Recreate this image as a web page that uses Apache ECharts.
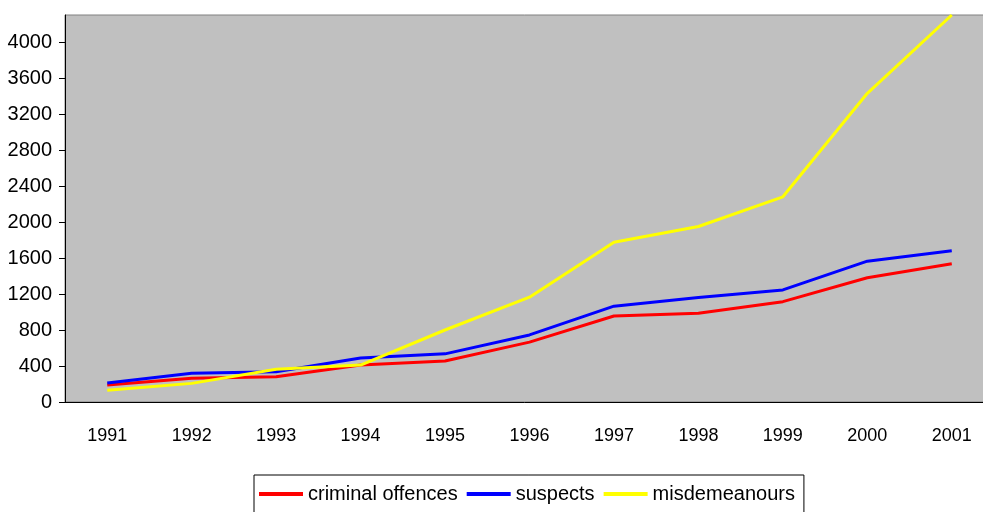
<!DOCTYPE html>
<html>
<head>
<meta charset="utf-8">
<script src="https://cdn.jsdelivr.net/npm/echarts@6/dist/echarts.min.js"></script>
<style>
  html, body { margin: 0; padding: 0; background: #fff; }
  #chart { width: 983px; height: 512px; }
</style>
</head>
<body>
<div id="chart"></div>
<script>
// values
var years = ["1991", "1992", "1993", "1994", "1995", "1996", "1997", "1998", "1999", "2000", "2001"];
var criminalOffences = [190, 265, 280, 410, 455, 665, 955, 985, 1115, 1380, 1535];
var suspects = [210, 320, 335, 490, 535, 745, 1065, 1160, 1245, 1565, 1680];
var misdemeanours = [130, 207, 365, 410, 800, 1165, 1775, 1950, 2280, 3430, 4300];
var yTicks = [0, 400, 800, 1200, 1600, 2000, 2400, 2800, 3200, 3600, 4000];

var font = '"Liberation Sans", Arial, sans-serif';

var chart = echarts.init(document.getElementById("chart"));

function line(name, color, data) {
  return {
    name: name,
    type: "line",
    data: data,
    symbol: "none",
    lineStyle: { color: color, width: 3 },
    itemStyle: { color: color },
    animation: false
  };
}

chart.setOption({
  backgroundColor: "#fff",
  grid: {
    left: 65,
    top: 15,
    right: -11,
    bottom: 110,
    outerBoundsMode: "none",
    containLabel: false,
    show: true,
    backgroundColor: "#C0C0C0",
    borderColor: "#808080",
    borderWidth: 1
  },
  xAxis: {
    type: "category",
    data: years,
    boundaryGap: true,
    axisLine: { lineStyle: { color: "#000", width: 1 } },
    axisTick: { length: 8, lineStyle: { color: "#000" } },
    axisLabel: { color: "#000", fontFamily: font, fontSize: 18, margin: 25 },
    splitLine: { show: false }
  },
  yAxis: {
    type: "value",
    min: 0,
    max: 4300,
    interval: 400,
    axisLine: { show: true, lineStyle: { color: "#000", width: 1 } },
    axisTick: { show: true, length: 6, lineStyle: { color: "#000" }, customValues: yTicks },
    axisLabel: {
      color: "#000",
      fontFamily: font,
      fontSize: 20,
      margin: 13,
      customValues: yTicks,
      formatter: function (v) { return String(v); }
    },
    splitLine: { show: false }
  },
  legend: {
    left: 254,
    top: 475,
    padding: [9, 9, 9, 5],
    borderColor: "#000",
    borderWidth: 1,
    icon: "rect",
    itemWidth: 44,
    itemHeight: 4,
    itemGap: 9,
    textStyle: { color: "#000", fontFamily: font, fontSize: 20 },
    data: ["criminal offences", "suspects", "misdemeanours"]
  },
  series: [
    line("criminal offences", "#FF0000", criminalOffences),
    line("suspects", "#0000FF", suspects),
    line("misdemeanours", "#FFFF00", misdemeanours)
  ]
});
</script>
</body>
</html>
